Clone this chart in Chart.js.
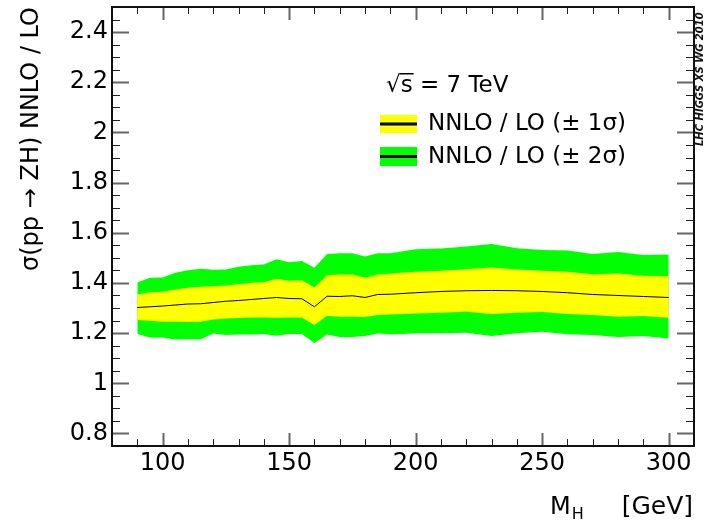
<!DOCTYPE html>
<html>
<head>
<meta charset="utf-8">
<script src="https://cdn.jsdelivr.net/npm/chart.js@4.4.0/dist/chart.umd.min.js"></script>
<style>
  html, body { margin: 0; padding: 0; background: #fff; }
</style>
</head>
<body>
<canvas id="myChart" width="704" height="523"></canvas>
<script>

/* NNLO / LO RATIO, ZH */

var massPoints = [90, 95, 100, 105, 110, 115, 120, 125, 130, 135, 140, 145, 150, 155, 160, 165, 170,
  175, 180, 185, 190, 195, 200, 210, 220, 230, 240, 250, 260, 270, 280, 290, 300];

var ratioCentral = [1.302, 1.305, 1.308, 1.312, 1.316, 1.317, 1.322, 1.327, 1.330, 1.334, 1.338, 1.342,
  1.338, 1.337, 1.305, 1.347, 1.346, 1.349, 1.342, 1.354, 1.355, 1.358, 1.361, 1.366, 1.369, 1.370,
  1.369, 1.366, 1.361, 1.354, 1.350, 1.346, 1.342];

// +/- 1 sigma
var oneSigmaUp = [1.354, 1.363, 1.365, 1.374, 1.381, 1.385, 1.387, 1.390, 1.395, 1.401, 1.403, 1.417,
  1.409, 1.411, 1.382, 1.431, 1.434, 1.434, 1.421, 1.434, 1.437, 1.442, 1.445, 1.449, 1.455, 1.462,
  1.454, 1.449, 1.445, 1.435, 1.438, 1.429, 1.427];
var oneSigmaDown = [1.252, 1.249, 1.245, 1.245, 1.244, 1.245, 1.254, 1.258, 1.260, 1.262, 1.262, 1.261,
  1.262, 1.262, 1.232, 1.269, 1.265, 1.265, 1.264, 1.272, 1.274, 1.276, 1.278, 1.281, 1.285, 1.276,
  1.281, 1.284, 1.276, 1.272, 1.265, 1.268, 1.261];

// +/- 2 sigma
var twoSigmaUp = [1.402, 1.421, 1.422, 1.441, 1.451, 1.457, 1.453, 1.454, 1.465, 1.471, 1.474, 1.494,
  1.482, 1.487, 1.461, 1.515, 1.518, 1.518, 1.505, 1.518, 1.518, 1.526, 1.534, 1.537, 1.545, 1.555,
  1.538, 1.531, 1.529, 1.515, 1.523, 1.511, 1.513];
var twoSigmaDown = [1.196, 1.183, 1.183, 1.175, 1.176, 1.176, 1.198, 1.192, 1.194, 1.194, 1.196, 1.189,
  1.196, 1.196, 1.161, 1.194, 1.185, 1.185, 1.188, 1.198, 1.195, 1.196, 1.199, 1.199, 1.201, 1.188,
  1.199, 1.205, 1.195, 1.192, 1.185, 1.188, 1.179];

var xTickValues = [100, 150, 200, 250, 300];
var yTickValues = [0.8, 1.0, 1.2, 1.4, 1.6, 1.8, 2.0, 2.2, 2.4];

var legendLabels = ["NNLO / LO (\u00b1 1\u03c3)", "NNLO / LO (\u00b1 2\u03c3)"];

const FONT = "'DejaVu Sans', 'Liberation Sans', sans-serif";

function toPoints(values) {
  return massPoints.map(function (m, i) {
    return { x: m, y: values[i] };
  });
}

function band(values, color, fill) {
  return {
    data: toPoints(values),
    borderColor: "rgba(0,0,0,0)",
    borderWidth: 0,
    backgroundColor: color,
    fill: fill,
    pointRadius: 0,
    tension: 0
  };
}

// ROOT style frame with inward ticks on all four sides
const frameAndTicks = {
  id: "frameAndTicks",
  afterDraw: function (chart) {
    var ctx = chart.ctx;
    var a = chart.chartArea;
    var xs = chart.scales.x;
    var ys = chart.scales.y;
    var v, px, py, major;

    ctx.save();
    for (v = 80; v <= 310; v += 10) {
      px = Math.round(xs.getPixelForValue(v)) + 0.5;
      major = v % 50 === 0;
      ctx.strokeStyle = major ? "#666" : "#222";
      ctx.lineWidth = major ? 2 : 1;
      var len = major ? 13 : 7;
      ctx.beginPath();
      ctx.moveTo(px, a.bottom); ctx.lineTo(px, a.bottom - len);
      ctx.moveTo(px, a.top); ctx.lineTo(px, a.top + len);
      ctx.stroke();
    }
    for (var i = 0; i * 0.05 + 0.75 <= 2.5001; i++) {
      v = +(0.75 + i * 0.05).toFixed(2);
      py = Math.round(ys.getPixelForValue(v)) + 0.5;
      major = Math.abs(v / 0.2 - Math.round(v / 0.2)) < 1e-6;
      ctx.strokeStyle = major ? "#666" : "#222";
      ctx.lineWidth = major ? 2 : 1;
      var ylen = major ? 17 : 8;
      ctx.beginPath();
      ctx.moveTo(a.left, py); ctx.lineTo(a.left + ylen, py);
      ctx.moveTo(a.right, py); ctx.lineTo(a.right - ylen, py);
      ctx.stroke();
    }

    ctx.strokeStyle = "#111";
    ctx.lineWidth = 2;
    ctx.strokeRect(a.left, a.top, a.right - a.left, a.bottom - a.top);

    // x axis title with subscript
    ctx.fillStyle = "#000";
    ctx.textBaseline = "alphabetic";
    ctx.textAlign = "left";
    ctx.font = "24px " + FONT;
    ctx.fillText("M", 550, 514);
    var mw = ctx.measureText("M").width;
    ctx.font = "16px " + FONT;
    ctx.fillText("H", 550 + mw + 1, 519);
    ctx.font = "25px " + FONT;
    ctx.textAlign = "right";
    ctx.fillText("[GeV]", 693, 514);

    // energy label
    ctx.textAlign = "left";
    ctx.font = "23px " + FONT;
    var sx = 386;
    ctx.fillText("\u221a", sx, 92);
    var rw = ctx.measureText("\u221a").width;
    var rTop = ctx.measureText("\u221a").actualBoundingBoxAscent;
    ctx.fillText("s = 7 TeV", sx + rw, 92);
    var sw = ctx.measureText("s").width;
    ctx.lineWidth = 1.5;
    ctx.strokeStyle = "#000";
    ctx.beginPath();
    ctx.moveTo(sx + rw - 1, 92 - rTop + 0.75);
    ctx.lineTo(sx + rw + sw + 1, 92 - rTop + 0.75);
    ctx.stroke();

    // legend boxes
    var boxes = [
      { color: "#ffff00", top: 115, h: 18, base: 130 },
      { color: "#00ff00", top: 147, h: 19, base: 163 }
    ];
    boxes.forEach(function (b, k) {
      ctx.fillStyle = b.color;
      ctx.fillRect(380, b.top, 37, b.h);
      ctx.fillStyle = "#000";
      ctx.fillRect(380, b.top + b.h / 2 - 1.5, 37, 3);
      ctx.fillText(legendLabels[k], 428, b.base);
    });

    // collaboration tag on the right edge
    ctx.translate(700, 146);
    ctx.rotate(-Math.PI / 2);
    ctx.font = "italic bold 10px " + FONT;
    ctx.textBaseline = "middle";
    ctx.fillStyle = "#111";
    ctx.fillText("LHC HIGGS XS WG 2010", 0, 0);
    ctx.restore();
  }
};

new Chart("myChart", {
  type: "line",
  data: {
    datasets: [
      {
        data: toPoints(ratioCentral),
        borderColor: "#000",
        borderWidth: 1,
        fill: false,
        pointRadius: 0,
        tension: 0
      },
      band(oneSigmaUp, "#ffff00", "+1"),
      band(oneSigmaDown, "#ffff00", false),
      band(twoSigmaUp, "#00ff00", "+1"),
      band(twoSigmaDown, "#00ff00", false)
    ]
  },
  options: {
    responsive: false,
    devicePixelRatio: 1,
    animation: false,
    layout: { padding: { top: 7, right: 10, bottom: 0, left: 0 } },
    plugins: {
      legend: { display: false },
      tooltip: { enabled: false }
    },
    scales: {
      x: {
        type: "linear",
        min: 80,
        max: 310,
        afterBuildTicks: function (scale) {
          scale.ticks = xTickValues.map(function (v) { return { value: v }; });
        },
        afterFit: function (scale) {
          scale.height = 77;
          scale.paddingLeft = 0;
          scale.paddingRight = 0;
        },
        grid: { display: false, drawTicks: false },
        border: { display: false },
        ticks: {
          color: "#000",
          font: { family: FONT, size: 24 },
          padding: 3,
          maxRotation: 0,
          autoSkip: false
        }
      },
      y: {
        type: "linear",
        min: 0.75,
        max: 2.5,
        afterBuildTicks: function (scale) {
          scale.ticks = yTickValues.map(function (v) { return { value: v }; });
        },
        afterFit: function (scale) {
          scale.width = 112;
          scale.paddingTop = 0;
          scale.paddingBottom = 0;
        },
        grid: { display: false, drawTicks: false },
        border: { display: false },
        ticks: {
          color: "#000",
          font: { family: FONT, size: 24 },
          padding: 4,
          callback: function (v) { return String(+v.toFixed(1)); }
        },
        title: {
          display: true,
          text: "\u03c3(pp \u2192 ZH) NNLO / LO",
          align: "end",
          color: "#000",
          font: { family: FONT, size: 24 },
          padding: { top: 17, bottom: 0 }
        }
      }
    }
  },
  plugins: [frameAndTicks]
});
</script>
</body>
</html>
